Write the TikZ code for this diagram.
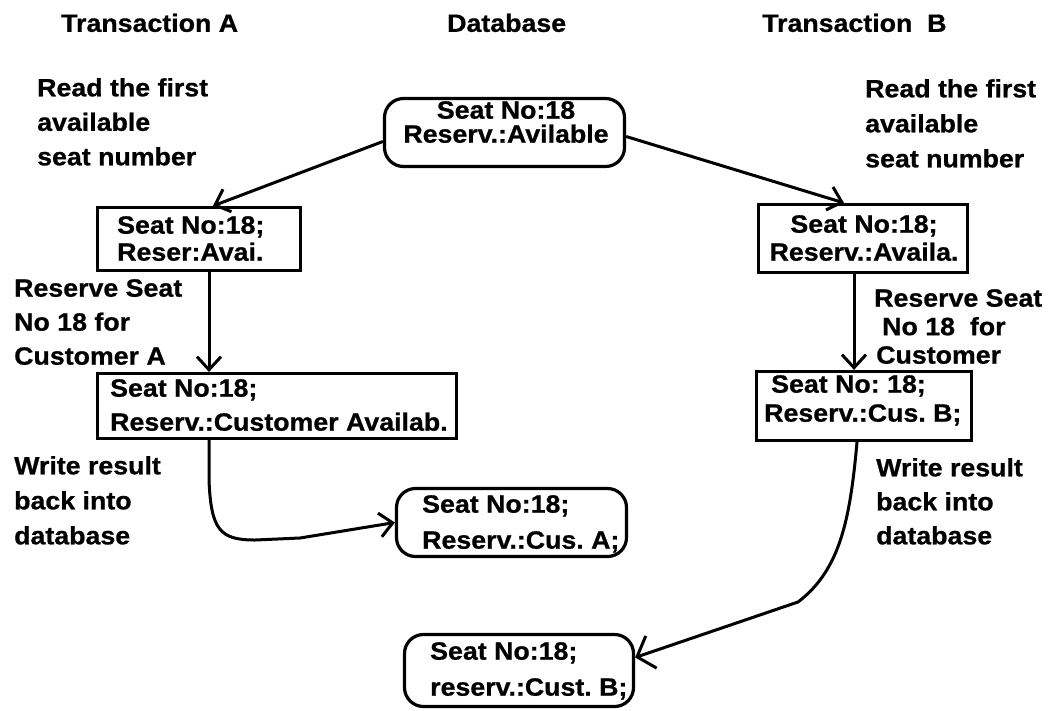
\documentclass[tikz,border=0pt]{standalone}
\usepackage{fontspec}
\setmainfont{Liberation Sans}[FakeStretch=1.07, BoldFeatures={FakeBold=0.8}]
\usetikzlibrary{arrows.meta}
\begin{document}
\frenchspacing
\begin{tikzpicture}[x=1pt,y=-1pt,
  txt/.style={font=\fontsize{25}{34}\selectfont\bfseries, inner sep=0pt, align=left, anchor=north west},
  ctxt/.style={txt, align=center, anchor=north},
  sqbox/.style={draw, line width=3.2pt, rectangle, inner sep=0pt},
  dbbox/.style={sqbox, rounded corners=19pt},
  conn/.style={line width=3pt, line join=round, -{Straight Barb[length=13pt,width=24pt,line width=3pt]}},
]
\useasboundingbox[fill=white] (0,0) rectangle (1056,710);

% titles
\node[txt] (tA) at (61,13.5) {Transaction A};
\node[txt] (tD) at (447,13.5) {Database};
\node[txt] (tB) at (762,13.5) {Transaction\ \ B};

% boxes
\node[dbbox, minimum width=240pt, minimum height=68pt] (db1) at (504.5,132.5) {};
\node[sqbox, minimum width=203pt, minimum height=63pt] (a1) at (199,239) {};
\node[sqbox, minimum width=209pt, minimum height=68pt] (b1) at (863,238.5) {};
\node[sqbox, minimum width=359pt, minimum height=65pt] (a2) at (277,406) {};
\node[sqbox, minimum width=215pt, minimum height=69pt] (b2) at (864,406) {};
\node[dbbox, minimum width=230pt, minimum height=68pt] (db2) at (511.5,522.5) {};
\node[dbbox, minimum width=229pt, minimum height=72pt] (db3) at (519,670.5) {};

% box texts
\node[ctxt, font=\fontsize{25}{24}\selectfont\bfseries] (db1t) at (506,101) {Seat No:18\\Reserv.:Avilable};
\node[txt, font=\fontsize{25}{27}\selectfont\bfseries] (a1t) at (117,216) {Seat No:18;\\Reser:Avai.};
\node[ctxt, font=\fontsize{25}{28}\selectfont\bfseries] (b1t) at (864,215) {Seat No:18;\\Reserv.:Availa.};
\node[txt, font=\fontsize{25}{34}\selectfont\bfseries] (a2t) at (110,379) {Seat No:18;\\Reserv.:Customer Availab.};
\node[txt, font=\fontsize{25}{29}\selectfont\bfseries] (b2t) at (764,375) {\hspace*{7pt}Seat No: 18;\\Reserv.:Cus. B;};
\node[txt, font=\fontsize{25}{36}\selectfont\bfseries] (db2t) at (422,495) {Seat No:18;\\Reserv.:Cus. A;};
\node[txt, font=\fontsize{25}{36}\selectfont\bfseries] (db3t) at (430,642) {Seat No:18;\\reserv.:Cust. B;};

% labels
\node[txt, font=\fontsize{25}{34.5}\selectfont\bfseries] (lA1) at (37,78) {Read the first\\available\\seat number};
\node[txt, font=\fontsize{25}{34}\selectfont\bfseries] (lA2) at (14,279) {Reserve Seat\\No 18 for\\Customer A};
\node[txt, font=\fontsize{25}{35}\selectfont\bfseries] (lA3) at (14,456) {Write result\\back into\\database};
\node[txt, font=\fontsize{25}{35}\selectfont\bfseries] (lB1) at (865,79) {Read the first\\available\\seat number};
\node[txt, font=\fontsize{25}{28.5}\selectfont\bfseries] (lB2) at (874,289) {Reserve Seat\\\hspace*{8pt}No 18\ \ for\\\hspace*{2pt}Customer};
\node[txt, font=\fontsize{25}{34}\selectfont\bfseries] (lB3) at (876,458) {Write result\\back into\\database};

% connectors
\draw[conn] ([yshift=-9pt]db1.west) -- ([xshift=14pt]a1.north);
\draw[conn] ([yshift=-4pt]db1.east) -- ([xshift=-19pt]b1.north);
\coordinate (pa) at ([xshift=10pt]a1.south);
\draw[conn] (pa) -- (pa |- a2.north);
\coordinate (pb) at ([xshift=-9pt]b1.south);
\draw[conn] (pb) -- (pb |- b2.north);
\coordinate (pa2) at (pa |- a2.south);
\draw[conn] (pa2) -- (209,480) .. controls (211,530) and (220,540) .. (255,540) -- (300,538) -- (db2.west);
\coordinate (pb2) at ([xshift=-7pt]b2.south);
\draw[line width=3pt, line join=round, -{Straight Barb[length=15pt,width=34pt,line width=3pt]}] (pb2) .. controls (850,520) and (840,570) .. (798,602) -- ([yshift=13pt]db3.east);
\end{tikzpicture}
\end{document}
